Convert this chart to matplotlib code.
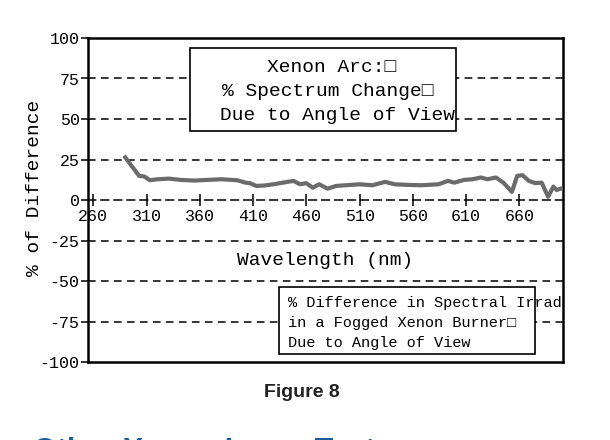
import matplotlib.pyplot as plt
from matplotlib.patches import Rectangle

# wavelength (nm) and % difference
wavelength = [290, 296, 303, 308, 313, 320, 331, 342, 355, 367, 380, 395, 403, 407,
              413, 420, 429, 438, 448, 454, 460, 466, 472, 480, 488, 497, 510, 522,
              534, 543, 556, 568, 584, 593, 599, 608, 616, 624, 630, 638, 645, 653,
              658, 663, 669, 675, 681, 687, 692, 695, 699]
pct_diff = [26.3, 21.0, 14.9, 14.5, 12.2, 12.8, 13.2, 12.4, 12.0, 12.4, 12.8, 12.2, 10.7, 10.4,
            8.7, 8.9, 9.7, 10.7, 11.8, 9.7, 10.4, 7.6, 9.7, 7.0, 8.7, 9.1, 9.7, 9.1,
            11.2, 9.7, 9.3, 9.1, 9.7, 11.8, 10.7, 12.4, 12.8, 13.9, 12.8, 13.9, 10.7, 5.0,
            14.9, 15.3, 11.8, 10.4, 10.7, 2.0, 8.3, 6.2, 7.0]

x_ticks = [260, 310, 360, 410, 460, 510, 560, 610, 660]
y_ticks = [-100, -75, -50, -25, 0, 25, 50, 75, 100]
y_labels = ['-100', '-75', '-50', '-25', '0', '25', '50', '75', '100']

W, H = 610, 440
mono = ['Liberation Mono', 'DejaVu Sans Mono']


def fx(px):
    return px / W


def fy(py):
    return 1 - py / H


fig = plt.figure(figsize=(6.1, 4.4), dpi=100)
ax = fig.add_axes([fx(88), fy(362), fx(563) - fx(88), fy(38) - fy(362)])
ax.set_xlim(255, 701)
ax.set_ylim(-100, 100)

# dashed grid lines
for y in [75, 50, 25, -25, -50, -75]:
    ax.axhline(y, color='black', lw=1.1, ls=(0, (5, 3.5)), zorder=1)

ax.plot(wavelength, pct_diff, color='#6b6b6b', lw=3, zorder=3)

ax.spines['bottom'].set_position(('data', 0))
ax.spines['bottom'].set_linestyle((0, (5, 3.5)))
ax.spines['bottom'].set_linewidth(1.1)
for s in ['left', 'right', 'top']:
    ax.spines[s].set_linewidth(1.8)
ax.axhline(-100, color='black', lw=1.8, clip_on=False, zorder=5)

ax.set_xticks(x_ticks)
ax.set_yticks(y_ticks)
ax.set_yticklabels(y_labels)
ax.tick_params(axis='x', direction='inout', length=9, width=1.1, pad=2, labelsize=12)
ax.tick_params(axis='y', direction='out', length=5, width=1.1, pad=1, labelsize=12)
for lab in ax.get_xticklabels():
    lab.set_fontfamily(mono)
    lab.set_bbox(dict(facecolor='white', edgecolor='none', pad=1))
for lab in ax.get_yticklabels():
    lab.set_fontfamily(mono)

fig.text(fx(35), fy(188), '% of Difference', rotation=90, ha='center', va='center',
         fontsize=14, family=mono)
fig.text(fx(325), fy(260), 'Wavelength (nm)', ha='center', va='center',
         fontsize=14, family=mono)

# top text box
ax.add_patch(Rectangle((fx(190), fy(131)), fx(456) - fx(190), fy(48) - fy(131),
                       transform=fig.transFigure, facecolor='white', edgecolor='black',
                       lw=1.2, zorder=4, clip_on=False))
for txt, px, py in [('Xenon Arc:\u25a1', 267, 67), ('% Spectrum Change\u25a1', 222, 91),
                    ('Due to Angle of View', 220, 115)]:
    fig.text(fx(px), fy(py), txt, ha='left', va='center', fontsize=14, family=mono, zorder=6)

# bottom text box
ax.add_patch(Rectangle((fx(279), fy(354)), fx(535) - fx(279), fy(287) - fy(354),
                       transform=fig.transFigure, facecolor='white', edgecolor='black',
                       lw=1.2, zorder=4, clip_on=False))
for txt, py in [('% Difference in Spectral Irradiance', 303),
                ('in a Fogged Xenon Burner\u25a1', 323),
                ('Due to Angle of View', 343)]:
    t = ax.text(fx(288), fy(py), txt, transform=fig.transFigure, ha='left', va='center',
                fontsize=11, family=mono, zorder=6)
    t.set_clip_box(ax.bbox)
    t.set_clip_on(True)

fig.text(fx(302), fy(392), 'Figure 8', ha='center', va='center', fontsize=14,
         fontweight='bold', family='Liberation Sans', color='#222222')
# heading of the next section, cut off by the bottom edge as in the page scan
fig.text(fx(33), fy(437), 'Other Xenon Lamp Tests', ha='left', va='top', fontsize=22,
         fontweight='bold', family='Liberation Sans', color='#1b5e9b')

fig.savefig('out.png', dpi=100)
